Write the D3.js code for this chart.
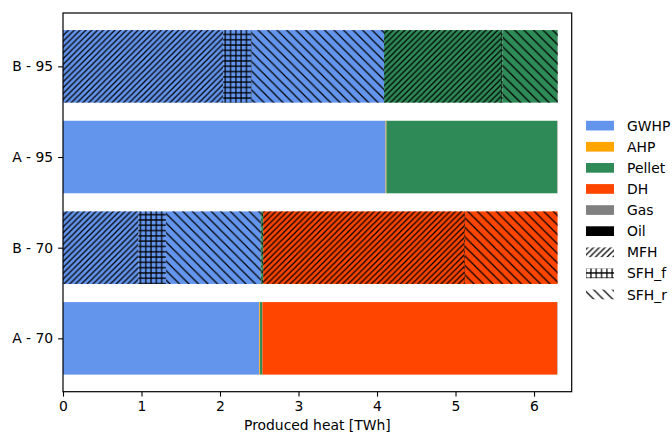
<!DOCTYPE html>
<html>
<head>
<meta charset="utf-8">
<script src="https://cdn.jsdelivr.net/npm/d3@7"></script>
<style>
  html, body { margin: 0; padding: 0; background: #fff; }
  svg { display: block; font-family: "DejaVu Sans", sans-serif; }
</style>
</head>
<body>
<svg id="chart" width="672" height="435"></svg>
<script>
// Scenario rows, bottom to top
const categories = ["A - 70", "B - 70", "A - 95", "B - 95"];
const techs = ["GWHP", "AHP", "Pellet", "DH", "Gas", "Oil"];
const techColors = ["#6495ED", "#FFA500", "#2E8B57", "#FF4500", "#808080", "#000000"];
const buildings = ["MFH", "SFH_f", "SFH_r"];
const xTicks = [0, 1, 2, 3, 4, 5, 6];

// Scenario A: produced heat per technology [TWh]
const heatA70 = [2.50, 0.01, 0.03, 3.755, 0.005, 0];
const heatA95 = [4.11, 0.01, 2.175, 0, 0.005, 0];

// Scenario B: produced heat per technology, split by building type [TWh]
const heatB70MFH  = [0.96, 0, 0.01, 2.56, 0, 0];
const heatB70SFHf = [0.35, 0, 0, 0.01, 0, 0];
const heatB70SFHr = [1.21, 0, 0.02, 1.18, 0, 0];
const heatB95MFH  = [2.04, 0, 1.49, 0, 0, 0];
const heatB95SFHf = [0.36, 0, 0.02, 0, 0, 0];
const heatB95SFHr = [1.69, 0, 0.70, 0, 0.005, 0];

const svg = d3.select("#chart");
const fontSize = 13.9;
const plotLeft = 63, plotRight = 571.7, plotTop = 13, plotBottom = 391.7;

// Hatch patterns (line spacing in px, lines anchored to the page)
const defs = svg.append("defs");
function hatchPattern(id, kind, s) {
  const p = defs.append("pattern")
    .attr("id", id)
    .attr("patternUnits", "userSpaceOnUse")
    .attr("width", s).attr("height", s);
  let d;
  if (kind === "/") {
    d = `M${-s},${s} L${s},${-s} M0,${s} L${s},0 M0,${2 * s} L${2 * s},0`;
  } else if (kind === "\\") {
    d = `M${-s},0 L${s},${2 * s} M0,0 L${s},${s} M0,${-s} L${2 * s},${s}`;
  } else {
    d = `M0,${s / 2} L${s},${s / 2} M${s / 2},0 L${s / 2},${s}`;
  }
  p.append("path").attr("d", d)
    .attr("stroke", "#000").attr("stroke-width", 1.2).attr("fill", "none");
}
const hatchKinds = { MFH: ["/", 5.8], SFH_f: ["+", 5.3], SFH_r: ["\\", 9.5] };
buildings.forEach(b => hatchPattern("hatch-" + b, hatchKinds[b][0], hatchKinds[b][1]));

// Scales
const x = d3.scaleLinear().domain([0, 6.48]).range([plotLeft, plotRight]);
const y = d3.scalePoint().domain(categories).range([plotBottom, plotTop]).padding(0.5885);
const barH = 0.8 * y.step();

// Build stacked segments
function stackA(values) {
  let acc = 0;
  return values.map((v, i) => {
    const s = { x0: acc, x1: acc + v, color: techColors[i], hatch: null };
    acc += v; return s;
  });
}
function stackB(perBuilding) {
  let acc = 0; const out = [];
  techs.forEach((t, i) => {
    buildings.forEach((b, j) => {
      const v = perBuilding[j][i];
      out.push({ x0: acc, x1: acc + v, color: techColors[i], hatch: b });
      acc += v;
    });
  });
  return out;
}
const rows = [
  { cat: "A - 70", segs: stackA(heatA70) },
  { cat: "B - 70", segs: stackB([heatB70MFH, heatB70SFHf, heatB70SFHr]) },
  { cat: "A - 95", segs: stackA(heatA95) },
  { cat: "B - 95", segs: stackB([heatB95MFH, heatB95SFHf, heatB95SFHr]) }
];

const barsG = svg.append("g");
rows.forEach(row => {
  const segs = row.segs.filter(s => s.x1 > s.x0);
  const g = barsG.append("g");
  g.selectAll("rect.fill").data(segs).join("rect")
    .attr("class", "fill")
    .attr("x", d => x(d.x0))
    .attr("width", d => x(d.x1) - x(d.x0))
    .attr("y", y(row.cat) - barH / 2)
    .attr("height", barH)
    .attr("fill", d => d.color);
  g.selectAll("rect.hatch").data(segs.filter(s => s.hatch)).join("rect")
    .attr("class", "hatch")
    .attr("x", d => x(d.x0))
    .attr("width", d => x(d.x1) - x(d.x0))
    .attr("y", y(row.cat) - barH / 2)
    .attr("height", barH)
    .attr("fill", d => `url(#hatch-${d.hatch})`);
});

// Axes
const xAxis = svg.append("g")
  .attr("transform", `translate(0,${plotBottom})`)
  .call(d3.axisBottom(x).tickValues(xTicks).tickFormat(d3.format("d")).tickSize(4.9).tickPadding(4.9));
const yAxis = svg.append("g")
  .attr("transform", `translate(${plotLeft},0)`)
  .call(d3.axisLeft(y).tickSize(4.9).tickPadding(4.9));
[xAxis, yAxis].forEach(a => {
  a.select(".domain").remove();
  a.selectAll(".tick line").attr("stroke", "#000").attr("stroke-width", 1.1);
  a.selectAll(".tick text").attr("fill", "#000")
    .style("font-family", "DejaVu Sans").style("font-size", fontSize + "px");
});

// Frame
svg.append("rect")
  .attr("x", plotLeft).attr("y", plotTop)
  .attr("width", plotRight - plotLeft).attr("height", plotBottom - plotTop)
  .attr("fill", "none").attr("stroke", "#000").attr("stroke-width", 1.2);

// Axis label
svg.append("text")
  .attr("x", (plotLeft + plotRight) / 2).attr("y", 429.5)
  .attr("text-anchor", "middle")
  .style("font-size", fontSize + "px")
  .text("Produced heat [TWh]");

// Legend
const legendItems = techs.map((t, i) => ({ label: t, fill: techColors[i], hatch: null }))
  .concat(buildings.map(b => ({ label: b, fill: "#fff", hatch: b })));
const lg = svg.append("g");
legendItems.forEach((d, i) => {
  const cy = 125.7 + i * 21.1;
  lg.append("rect").attr("x", 586).attr("y", cy - 4.9).attr("width", 28).attr("height", 9.7)
    .attr("fill", d.fill);
  if (d.hatch) {
    lg.append("rect").attr("x", 586).attr("y", cy - 4.9).attr("width", 28).attr("height", 9.7)
      .attr("fill", `url(#hatch-${d.hatch})`);
  }
  lg.append("text").attr("x", 627).attr("y", cy).attr("dy", "0.36em")
    .style("font-size", fontSize + "px").text(d.label);
});
</script>
</body>
</html>
